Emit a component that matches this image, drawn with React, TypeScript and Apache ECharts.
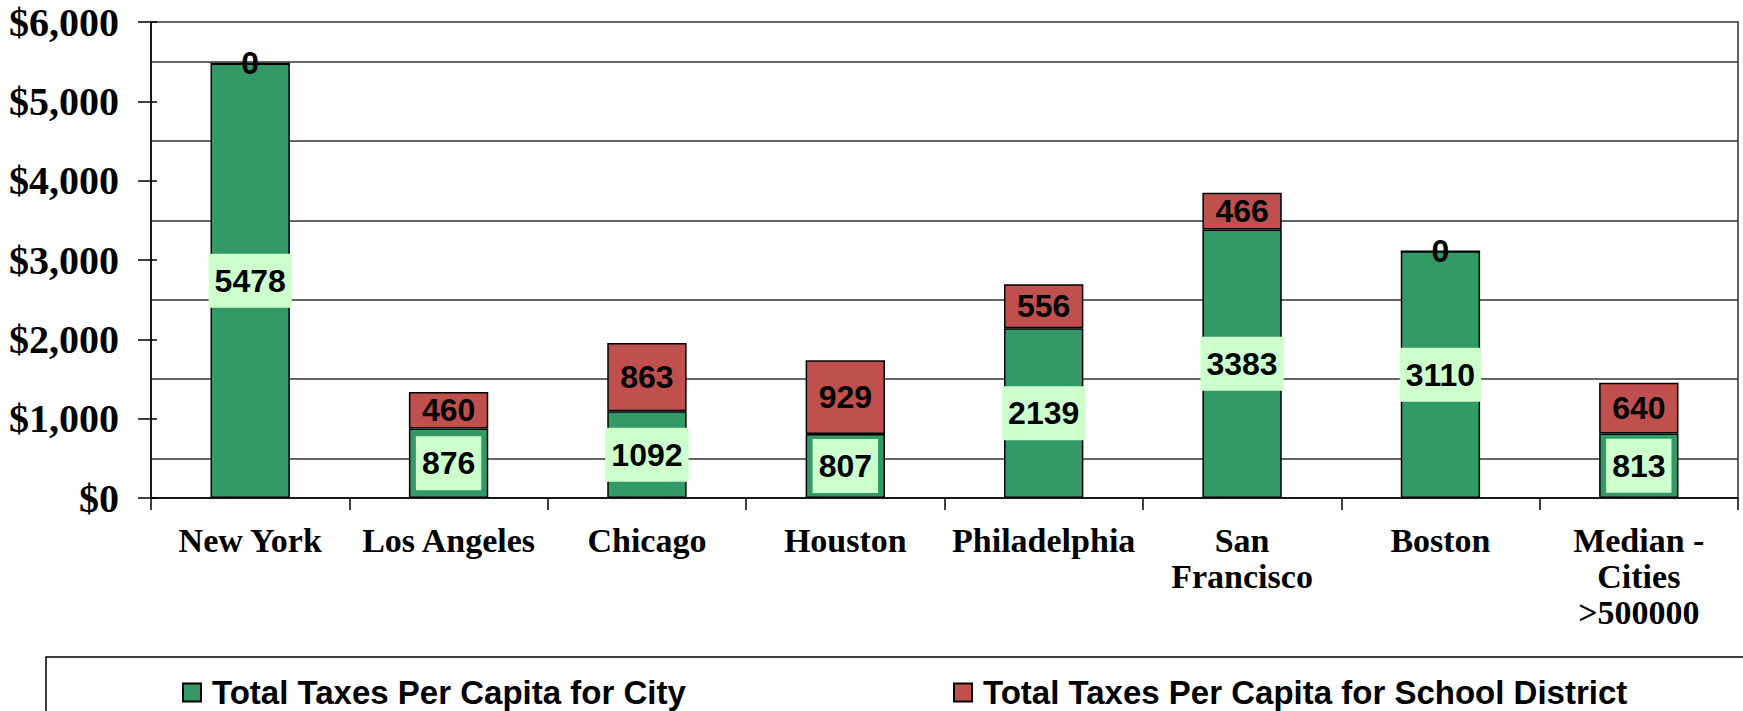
import React, { useEffect, useRef } from "react";
import * as echarts from "echarts";

const categories = [
  "New York",
  "Los Angeles",
  "Chicago",
  "Houston",
  "Philadelphia",
  "San\nFrancisco",
  "Boston",
  "Median -\nCities\n>500000",
];
const cityTaxes = [5478, 876, 1092, 807, 2139, 3383, 3110, 813];
const schoolTaxes = [0, 460, 863, 929, 556, 466, 0, 640];
const seriesNames = [
  "Total Taxes Per Capita for City",
  "Total Taxes Per Capita for School District",
];

const SERIF = "'Liberation Serif', 'Times New Roman', serif";
const SANS = "'Liberation Sans', Arial, sans-serif";

export default function App() {
  const ref = useRef<HTMLDivElement>(null);
  useEffect(() => {
    if (!ref.current) return;
    const chart = echarts.init(ref.current, null, { renderer: "svg" });
    const labelText = {
      fontFamily: SANS,
      fontWeight: "bold" as const,
      fontSize: 32,
      color: "#000",
    };
    const legendText = {
      fontFamily: SANS,
      fontWeight: "bold" as const,
      fontSize: 33,
      color: "#000",
      padding: [0, 0, 0, 6],
    };
    chart.setOption({
      animation: false,
      backgroundColor: "#fff",
      grid: {
        left: 151,
        top: 22,
        width: 1587,
        height: 476,
        show: true,
        borderColor: "#333",
        borderWidth: 1.5,
        containLabel: false,
      },
      legend: [
        {
          data: [seriesNames[0]],
          left: 177,
          top: 671,
          itemWidth: 18,
          itemHeight: 18,
          icon: "rect",
          textStyle: legendText,
        },
        {
          data: [seriesNames[1]],
          left: 948,
          top: 671,
          itemWidth: 18,
          itemHeight: 18,
          icon: "rect",
          textStyle: legendText,
        },
      ],
      graphic: [
        {
          type: "rect",
          shape: { x: 46, y: 657, width: 1760, height: 120 },
          style: { fill: "none", stroke: "#000", lineWidth: 1.5 },
          z: -1,
        },
      ],
      xAxis: {
        type: "category",
        data: categories,
        axisLine: { show: true, lineStyle: { color: "#000", width: 1.5 } },
        axisTick: {
          show: true,
          interval: 0,
          length: 12,
          lineStyle: { color: "#000", width: 1.5 },
        },
        axisLabel: {
          interval: 0,
          fontFamily: SERIF,
          fontWeight: "bold",
          fontSize: 34,
          lineHeight: 36,
          color: "#000",
          margin: 24,
        },
        splitLine: { show: false },
      },
      yAxis: [
        {
          type: "value",
          min: 0,
          max: 6000,
          interval: 1000,
          axisLine: { show: true, lineStyle: { color: "#000", width: 1.5 } },
          axisTick: {
            show: true,
            length: 13,
            lineStyle: { color: "#000", width: 1.5 },
          },
          axisLabel: {
            fontFamily: SERIF,
            fontWeight: "bold",
            fontSize: 40,
            color: "#000",
            margin: 32,
            formatter: (v: number) => "$" + v.toLocaleString("en-US"),
          },
          splitLine: { show: false },
        },
        {
          type: "value",
          min: 0,
          max: 6000,
          interval: 500,
          position: "left",
          axisLine: { show: false },
          axisTick: { show: false },
          axisLabel: { show: false },
          splitLine: {
            show: true,
            lineStyle: { color: ["transparent", "#333"], width: 1.5 },
          },
        },
        {
          type: "value",
          min: 0,
          max: 6000,
          interval: 1000,
          position: "left",
          axisLine: { show: false },
          axisTick: {
            show: true,
            inside: true,
            length: 6,
            lineStyle: { color: "#000", width: 1.5 },
          },
          axisLabel: { show: false },
          splitLine: { show: false },
        },
      ],
      series: [
        {
          name: seriesNames[0],
          type: "bar",
          stack: "total",
          barWidth: "40%",
          data: cityTaxes,
          itemStyle: { color: "#339966", borderColor: "#000", borderWidth: 1.5 },
          label: {
            show: true,
            position: "inside",
            ...labelText,
            backgroundColor: "#CCFFCC",
            padding: [11, 6, 11, 6],
          },
        },
        {
          name: seriesNames[1],
          type: "bar",
          stack: "total",
          barWidth: "40%",
          data: schoolTaxes,
          itemStyle: { color: "#C0504D", borderColor: "#000", borderWidth: 1.5 },
          label: {
            show: true,
            position: "inside",
            ...labelText,
          },
        },
      ],
    });
    return () => chart.dispose();
  }, []);
  return (
    <div
      ref={ref}
      style={{ position: "fixed", left: 0, top: 0, width: 1743, height: 711 }}
    />
  );
}
